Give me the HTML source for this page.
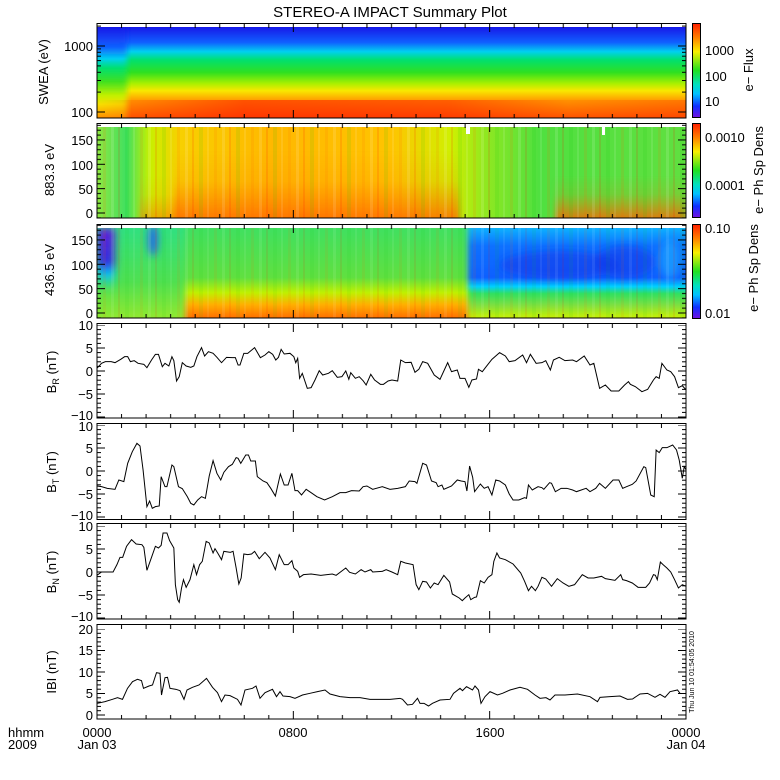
<!DOCTYPE html>
<html><head><meta charset="utf-8"><style>
html,body{margin:0;padding:0;background:#fff}
svg{display:block}
text{font-family:"Liberation Sans",sans-serif;font-size:13px;fill:#000}
</style></head><body>
<svg width="780" height="780" viewBox="0 0 780 780" xmlns="http://www.w3.org/2000/svg">
<defs>
<linearGradient id="cb" x1="0" y1="0" x2="0" y2="1">
<stop offset="0" stop-color="#ff2000"/><stop offset="0.15" stop-color="#ff8000"/><stop offset="0.3" stop-color="#f8f000"/><stop offset="0.5" stop-color="#20e020"/><stop offset="0.65" stop-color="#00e0c0"/><stop offset="0.75" stop-color="#00c0ff"/><stop offset="0.88" stop-color="#1030ff"/><stop offset="1" stop-color="#7010e0"/>
</linearGradient>
<linearGradient id="g1" x1="0" y1="0" x2="0" y2="1">
<stop offset="0" stop-color="#1818e8"/><stop offset="0.17" stop-color="#1060ff"/><stop offset="0.27" stop-color="#00d0f0"/><stop offset="0.36" stop-color="#00e070"/><stop offset="0.5" stop-color="#30e020"/><stop offset="0.62" stop-color="#a8f000"/><stop offset="0.7" stop-color="#f8e800"/><stop offset="0.8" stop-color="#ffa000"/><stop offset="1" stop-color="#ff5800"/>
</linearGradient>
<linearGradient id="g1l" x1="0" y1="0" x2="0" y2="1">
<stop offset="0" stop-color="#1818e8"/><stop offset="0.22" stop-color="#1060ff"/><stop offset="0.35" stop-color="#00d0f0"/><stop offset="0.45" stop-color="#00e070"/><stop offset="0.6" stop-color="#40e020"/><stop offset="0.75" stop-color="#c0f000"/><stop offset="0.85" stop-color="#f8e000"/><stop offset="1" stop-color="#ff9000"/>
</linearGradient>
<linearGradient id="g1red" x1="0" y1="0" x2="1" y2="0">
<stop offset="0" stop-color="#ff2000" stop-opacity="0"/><stop offset="0.25" stop-color="#ff2000" stop-opacity="0.6"/><stop offset="0.6" stop-color="#ff2000" stop-opacity="0.5"/><stop offset="0.8" stop-color="#ff2000" stop-opacity="0.1"/><stop offset="1" stop-color="#ff2000" stop-opacity="0.3"/>
</linearGradient>
<linearGradient id="g2" x1="0" y1="0" x2="1" y2="0">
<stop offset="0" stop-color="#90e840"/><stop offset="0.05" stop-color="#40e060"/><stop offset="0.09" stop-color="#c8f000"/><stop offset="0.14" stop-color="#f8d000"/><stop offset="0.3" stop-color="#ffb800"/><stop offset="0.5" stop-color="#ffc400"/><stop offset="0.6" stop-color="#d0f000"/><stop offset="0.66" stop-color="#90e820"/><stop offset="0.75" stop-color="#50e040"/><stop offset="1" stop-color="#60e040"/>
</linearGradient>
<linearGradient id="g2v" x1="0" y1="0" x2="0" y2="1">
<stop offset="0" stop-color="#ff7000" stop-opacity="0"/><stop offset="0.45" stop-color="#ff7000" stop-opacity="0.15"/><stop offset="1" stop-color="#ff6000" stop-opacity="0.75"/>
</linearGradient>
<linearGradient id="g3m" x1="0" y1="0" x2="0" y2="1">
<stop offset="0" stop-color="#40e060"/><stop offset="0.55" stop-color="#60e040"/><stop offset="0.72" stop-color="#c0f000"/><stop offset="0.85" stop-color="#ffb000"/><stop offset="1" stop-color="#ff7000"/>
</linearGradient>
<linearGradient id="g3l" x1="0" y1="0" x2="0" y2="1">
<stop offset="0" stop-color="#30e080"/><stop offset="0.6" stop-color="#50e050"/><stop offset="1" stop-color="#90e830"/>
</linearGradient>
<linearGradient id="g3r" x1="0" y1="0" x2="0" y2="1">
<stop offset="0" stop-color="#10b0ff"/><stop offset="0.2" stop-color="#1070ff"/><stop offset="0.55" stop-color="#1060ff"/><stop offset="0.65" stop-color="#00d0ff"/><stop offset="0.73" stop-color="#30e060"/><stop offset="0.86" stop-color="#80e040"/><stop offset="1" stop-color="#c8f000"/>
</linearGradient>
<linearGradient id="g3p" x1="0" y1="0" x2="0" y2="1">
<stop offset="0" stop-color="#6020d8"/><stop offset="0.55" stop-color="#3030e0"/><stop offset="0.7" stop-color="#00c0ff"/><stop offset="1" stop-color="#30e080" stop-opacity="0"/>
</linearGradient>
<filter id="bl"><feGaussianBlur stdDeviation="4"/></filter>
<filter id="bl2"><feGaussianBlur stdDeviation="3 0"/></filter>
<pattern id="stripes" patternUnits="userSpaceOnUse" width="37" height="10">
<rect x="0" width="3" height="10" fill="#fff" opacity="0.12"/><rect x="7" width="2" height="10" fill="#f00" opacity="0.12"/><rect x="14" width="4" height="10" fill="#0c0" opacity="0.1"/><rect x="22" width="2" height="10" fill="#fff" opacity="0.1"/><rect x="29" width="3" height="10" fill="#f60" opacity="0.12"/>
</pattern>
<pattern id="xtT" patternUnits="userSpaceOnUse" width="196.33" height="8">
<rect x="-0.5" y="0" width="1" height="8" fill="#000"/>
<rect x="24.04" y="0" width="1" height="4" fill="#000"/><rect x="48.58" y="0" width="1" height="4" fill="#000"/><rect x="73.12" y="0" width="1" height="4" fill="#000"/><rect x="97.66" y="0" width="1" height="4" fill="#000"/><rect x="122.2" y="0" width="1" height="4" fill="#000"/><rect x="146.75" y="0" width="1" height="4" fill="#000"/><rect x="171.29" y="0" width="1" height="4" fill="#000"/>
<rect x="195.83" y="0" width="1" height="8" fill="#000"/>
</pattern>
<pattern id="xtB" patternUnits="userSpaceOnUse" width="196.33" height="8">
<rect x="-0.5" y="0" width="1" height="8" fill="#000"/>
<rect x="24.04" y="4" width="1" height="4" fill="#000"/><rect x="48.58" y="4" width="1" height="4" fill="#000"/><rect x="73.12" y="4" width="1" height="4" fill="#000"/><rect x="97.66" y="4" width="1" height="4" fill="#000"/><rect x="122.2" y="4" width="1" height="4" fill="#000"/><rect x="146.75" y="4" width="1" height="4" fill="#000"/><rect x="171.29" y="4" width="1" height="4" fill="#000"/>
<rect x="195.83" y="0" width="1" height="8" fill="#000"/>
</pattern>
<pattern id="ybL" patternUnits="userSpaceOnUse" width="8" height="23">
<rect x="0" y="-0.5" width="8" height="1" fill="#000"/><rect x="0" y="4.1" width="4" height="1" fill="#000"/><rect x="0" y="8.7" width="4" height="1" fill="#000"/><rect x="0" y="13.3" width="4" height="1" fill="#000"/><rect x="0" y="17.9" width="4" height="1" fill="#000"/><rect x="0" y="22.5" width="8" height="1" fill="#000"/>
</pattern>
<pattern id="ybR" patternUnits="userSpaceOnUse" width="8" height="23">
<rect x="0" y="-0.5" width="8" height="1" fill="#000"/><rect x="4" y="4.1" width="4" height="1" fill="#000"/><rect x="4" y="8.7" width="4" height="1" fill="#000"/><rect x="4" y="13.3" width="4" height="1" fill="#000"/><rect x="4" y="17.9" width="4" height="1" fill="#000"/><rect x="0" y="22.5" width="8" height="1" fill="#000"/>
</pattern>
<pattern id="ymL" patternUnits="userSpaceOnUse" width="8" height="21.5">
<rect x="0" y="-0.5" width="8" height="1" fill="#000"/><rect x="0" y="3.8" width="4" height="1" fill="#000"/><rect x="0" y="8.1" width="4" height="1" fill="#000"/><rect x="0" y="12.4" width="4" height="1" fill="#000"/><rect x="0" y="16.7" width="4" height="1" fill="#000"/><rect x="0" y="21" width="8" height="1" fill="#000"/>
</pattern>
<pattern id="ymR" patternUnits="userSpaceOnUse" width="8" height="21.5">
<rect x="0" y="-0.5" width="8" height="1" fill="#000"/><rect x="4" y="3.8" width="4" height="1" fill="#000"/><rect x="4" y="8.1" width="4" height="1" fill="#000"/><rect x="4" y="12.4" width="4" height="1" fill="#000"/><rect x="4" y="16.7" width="4" height="1" fill="#000"/><rect x="0" y="21" width="8" height="1" fill="#000"/>
</pattern>
<pattern id="ypL" patternUnits="userSpaceOnUse" width="8" height="24.35">
<rect x="0" y="-0.5" width="8" height="1" fill="#000"/><rect x="0" y="4.37" width="4" height="1" fill="#000"/><rect x="0" y="9.24" width="4" height="1" fill="#000"/><rect x="0" y="14.11" width="4" height="1" fill="#000"/><rect x="0" y="18.98" width="4" height="1" fill="#000"/><rect x="0" y="23.85" width="8" height="1" fill="#000"/>
</pattern>
<pattern id="ypR" patternUnits="userSpaceOnUse" width="8" height="24.35">
<rect x="0" y="-0.5" width="8" height="1" fill="#000"/><rect x="4" y="4.37" width="4" height="1" fill="#000"/><rect x="4" y="9.24" width="4" height="1" fill="#000"/><rect x="4" y="14.11" width="4" height="1" fill="#000"/><rect x="4" y="18.98" width="4" height="1" fill="#000"/><rect x="0" y="23.85" width="8" height="1" fill="#000"/>
</pattern>
<clipPath id="c2"><rect x="97" y="127" width="589" height="91"/></clipPath>
<clipPath id="c3"><rect x="97" y="228" width="589" height="90"/></clipPath>
<clipPath id="c1"><rect x="97" y="27" width="589" height="91"/></clipPath>
</defs>

<text x="390" y="17" text-anchor="middle" style="font-size:15px">STEREO-A IMPACT Summary Plot</text>

<!-- Panel 1 SWEA -->
<rect x="97" y="27" width="589" height="91" fill="url(#g1)"/>
<g clip-path="url(#c1)">
<rect x="90" y="27" width="37" height="91" fill="url(#g1l)" filter="url(#bl2)"/>
</g>
<rect x="97" y="100" width="589" height="18" fill="url(#g1red)"/>
<rect x="97" y="23.5" width="589" height="94.5" fill="none" stroke="#000"/>
<g fill="#000">
<rect x="97" y="111.5" width="8" height="1"/><rect x="97" y="91.6" width="4" height="1"/><rect x="97" y="80" width="4" height="1"/><rect x="97" y="71.8" width="4" height="1"/><rect x="97" y="65.4" width="4" height="1"/><rect x="97" y="60.1" width="4" height="1"/><rect x="97" y="55.7" width="4" height="1"/><rect x="97" y="51.8" width="4" height="1"/><rect x="97" y="48.4" width="4" height="1"/><rect x="97" y="45.5" width="8" height="1"/><rect x="97" y="25.6" width="4" height="1"/>
<rect x="678" y="111.5" width="8" height="1"/><rect x="682" y="91.6" width="4" height="1"/><rect x="682" y="80" width="4" height="1"/><rect x="682" y="71.8" width="4" height="1"/><rect x="682" y="65.4" width="4" height="1"/><rect x="682" y="60.1" width="4" height="1"/><rect x="682" y="55.7" width="4" height="1"/><rect x="682" y="51.8" width="4" height="1"/><rect x="682" y="48.4" width="4" height="1"/><rect x="678" y="45.5" width="8" height="1"/><rect x="682" y="25.6" width="4" height="1"/>
</g>
<g transform="translate(97,24)"><rect x="0" y="0" width="589" height="8" fill="url(#xtT)"/></g>
<g transform="translate(97,110)"><rect x="0" y="0" width="589" height="8" fill="url(#xtB)"/></g>
<text x="93" y="51" text-anchor="end">1000</text>
<text x="93" y="117" text-anchor="end">100</text>
<text transform="translate(48,72) rotate(-90)" text-anchor="middle">SWEA (eV)</text>

<!-- Panel 2 -->
<rect x="97" y="127" width="589" height="91" fill="url(#g2)"/>
<g clip-path="url(#c2)">
<rect x="175" y="150" width="285" height="68" fill="url(#g2v)" filter="url(#bl2)"/>
<rect x="140" y="175" width="40" height="43" fill="url(#g2v)" opacity="0.6" filter="url(#bl2)"/>
<rect x="555" y="175" width="131" height="43" fill="url(#g2v)" filter="url(#bl2)"/>
</g>
<rect x="97" y="127" width="589" height="91" fill="url(#stripes)"/>
<rect x="466" y="127" width="4" height="7" fill="#fff"/>
<rect x="602" y="127" width="3" height="8" fill="#fff"/>
<rect x="97" y="123.5" width="589" height="94.5" fill="none" stroke="#000"/>
<g transform="translate(97,213)"><rect x="0" y="-90" width="8" height="95" fill="url(#ypL)"/></g>
<g transform="translate(678,213)"><rect x="0" y="-90" width="8" height="95" fill="url(#ypR)"/></g>
<g transform="translate(97,124)"><rect x="0" y="0" width="589" height="8" fill="url(#xtT)"/></g>
<g transform="translate(97,210)"><rect x="0" y="0" width="589" height="8" fill="url(#xtB)"/></g>
<text x="93" y="145" text-anchor="end">150</text>
<text x="93" y="170" text-anchor="end">100</text>
<text x="93" y="194" text-anchor="end">50</text>
<text x="93" y="218" text-anchor="end">0</text>
<text transform="translate(54,170) rotate(-90)" text-anchor="middle">883.3 eV</text>

<!-- Panel 3 -->
<rect x="97" y="228" width="589" height="90" fill="url(#g3m)"/>
<g clip-path="url(#c3)">
<rect x="90" y="228" width="95" height="90" fill="url(#g3l)" filter="url(#bl2)"/>
<rect x="468" y="228" width="230" height="90" fill="url(#g3r)" filter="url(#bl2)"/>
<g filter="url(#bl)">
<rect x="97" y="228" width="18" height="65" fill="url(#g3p)"/>
<ellipse cx="153" cy="240" rx="5" ry="16" fill="#2050ff" opacity="0.8"/>
<ellipse cx="560" cy="265" rx="60" ry="14" fill="#1030e8" opacity="0.5"/>
<ellipse cx="625" cy="262" rx="30" ry="16" fill="#1030e8" opacity="0.5"/>
<ellipse cx="670" cy="260" rx="10" ry="20" fill="#20c0ff" opacity="0.5"/>
</g>
</g>
<rect x="97" y="228" width="589" height="90" fill="url(#stripes)" opacity="0.7"/>
<rect x="97" y="224.5" width="589" height="93.5" fill="none" stroke="#000"/>
<g transform="translate(97,313)"><rect x="0" y="-88" width="8" height="93" fill="url(#ypL)"/></g>
<g transform="translate(678,313)"><rect x="0" y="-88" width="8" height="93" fill="url(#ypR)"/></g>
<g transform="translate(97,225)"><rect x="0" y="0" width="589" height="8" fill="url(#xtT)"/></g>
<g transform="translate(97,310)"><rect x="0" y="0" width="589" height="8" fill="url(#xtB)"/></g>
<text x="93" y="245" text-anchor="end">150</text>
<text x="93" y="270" text-anchor="end">100</text>
<text x="93" y="294" text-anchor="end">50</text>
<text x="93" y="318" text-anchor="end">0</text>
<text transform="translate(54,270) rotate(-90)" text-anchor="middle">436.5 eV</text>

<!-- Colorbars -->
<rect x="692.5" y="23.5" width="8" height="94" fill="url(#cb)" stroke="#000"/>
<rect x="692.5" y="123.5" width="8" height="94" fill="url(#cb)" stroke="#000"/>
<rect x="692.5" y="224.5" width="8" height="94" fill="url(#cb)" stroke="#000"/>
<text x="705" y="55">1000</text><text x="705" y="81">100</text><text x="705" y="106">10</text>
<text x="705" y="142">0.0010</text><text x="705" y="190">0.0001</text>
<text x="705" y="233">0.10</text><text x="705" y="318">0.01</text>
<text transform="translate(753,70) rotate(-90)" text-anchor="middle">e− Flux</text>
<text transform="translate(763,170) rotate(-90)" text-anchor="middle">e− Ph Sp Dens</text>
<text transform="translate(758,268) rotate(-90)" text-anchor="middle">e− Ph Sp Dens</text>

<!-- Line panels frames -->
<g fill="none" stroke="#000">
<rect x="97" y="323.5" width="589" height="94.5"/>
<rect x="97" y="423.5" width="589" height="96"/>
<rect x="97" y="523.5" width="589" height="95.5"/>
<rect x="97" y="624.5" width="589" height="94.5"/>
</g>
<g transform="translate(97,371)"><rect x="0" y="-46" width="8" height="93" fill="url(#ybL)"/></g>
<g transform="translate(678,371)"><rect x="0" y="-46" width="8" height="93" fill="url(#ybR)"/></g>
<g transform="translate(97,471)"><rect x="0" y="-46" width="8" height="93" fill="url(#ybL)"/></g>
<g transform="translate(678,471)"><rect x="0" y="-46" width="8" height="93" fill="url(#ybR)"/></g>
<g transform="translate(97,572)"><rect x="0" y="-46" width="8" height="93" fill="url(#ybL)"/></g>
<g transform="translate(678,572)"><rect x="0" y="-46" width="8" height="93" fill="url(#ybR)"/></g>
<g transform="translate(97,715)"><rect x="0" y="-86" width="8" height="87" fill="url(#ymL)"/></g>
<g transform="translate(678,715)"><rect x="0" y="-86" width="8" height="87" fill="url(#ymR)"/></g>
<g transform="translate(97,324)"><rect width="589" height="8" fill="url(#xtT)"/></g>
<g transform="translate(97,410)"><rect width="589" height="8" fill="url(#xtB)"/></g>
<g transform="translate(97,424)"><rect width="589" height="8" fill="url(#xtT)"/></g>
<g transform="translate(97,511)"><rect width="589" height="8" fill="url(#xtB)"/></g>
<g transform="translate(97,524)"><rect width="589" height="8" fill="url(#xtT)"/></g>
<g transform="translate(97,611)"><rect width="589" height="8" fill="url(#xtB)"/></g>
<g transform="translate(97,625)"><rect width="589" height="8" fill="url(#xtT)"/></g>
<g transform="translate(97,711)"><rect width="589" height="8" fill="url(#xtB)"/></g>

<g text-anchor="end">
<text x="93" y="330">10</text><text x="93" y="353">5</text><text x="93" y="376">0</text><text x="93" y="399">−5</text><text x="93" y="420">−10</text>
<text x="93" y="431">10</text><text x="93" y="453">5</text><text x="93" y="476">0</text><text x="93" y="499">−5</text><text x="93" y="520">−10</text>
<text x="93" y="531">10</text><text x="93" y="554">5</text><text x="93" y="577">0</text><text x="93" y="600">−5</text><text x="93" y="621">−10</text>
<text x="93" y="634">20</text><text x="93" y="655">15</text><text x="93" y="677">10</text><text x="93" y="698">5</text><text x="93" y="720">0</text>
</g>
<text transform="translate(56,372) rotate(-90)" text-anchor="middle">B<tspan dy="3" style="font-size:9px">R</tspan><tspan dy="-3"> (nT)</tspan></text>
<text transform="translate(56,472) rotate(-90)" text-anchor="middle">B<tspan dy="3" style="font-size:9px">T</tspan><tspan dy="-3"> (nT)</tspan></text>
<text transform="translate(56,572) rotate(-90)" text-anchor="middle">B<tspan dy="3" style="font-size:9px">N</tspan><tspan dy="-3"> (nT)</tspan></text>
<text transform="translate(56,672) rotate(-90)" text-anchor="middle">IBI (nT)</text>
<text transform="translate(694,672) rotate(-90)" text-anchor="middle" style="font-size:7px">Thu Jun 10 01:54:05 2010</text>

<g fill="none" stroke="#000" stroke-width="1">
<polyline transform="translate(90,320) scale(0.3846,0.3333)" vector-effect="non-scaling-stroke" points="18,145 30,130 40,125 55,125 65,128 80,118 90,110 98,110 105,125 115,122 125,130 140,133 148,143 160,120 170,103 178,103 188,140 195,130 205,138 213,110 218,122 225,183 232,170 240,128 250,138 262,142 270,138 278,110 290,83 298,108 308,95 320,100 330,112 342,128 355,112 370,113 378,113 385,135 390,135 400,100 410,100 428,83 443,113 455,105 465,95 475,103 483,120 490,112 497,88 505,102 520,100 530,110 535,128 540,115 545,175 552,160 565,205 575,203 585,180 596,152 605,165 620,160 630,152 643,172 655,170 665,153 673,178 678,158 690,175 700,170 710,182 718,195 730,163 740,180 755,193 763,193 775,183 785,180 800,183 808,120 820,128 835,127 845,157 855,148 865,125 878,130 895,165 910,178 930,128 940,155 955,150 962,175 975,175 985,202 993,180 1005,177 1010,148 1020,155 1030,140 1045,118 1065,98 1080,108 1090,125 1105,122 1125,105 1135,128 1145,103 1160,130 1175,128 1185,122 1197,150 1205,120 1220,112 1235,122 1255,120 1265,125 1285,108 1300,135 1310,130 1325,205 1340,195 1355,213 1375,213 1390,195 1400,185 1405,193 1418,200 1435,215 1450,208 1465,180 1472,170 1480,175 1487,130 1500,150 1510,155 1520,170 1530,203 1540,197 1550,210"/>
<polyline transform="translate(90,420) scale(0.3846,0.3333)" vector-effect="non-scaling-stroke" points="18,198 30,200 45,205 65,208 75,180 88,185 98,130 110,95 122,70 130,78 138,150 148,260 155,243 162,265 170,260 180,258 185,170 195,200 200,200 213,135 218,140 230,200 240,206 253,230 262,250 270,255 280,240 290,230 300,235 310,168 320,122 330,160 340,180 348,157 360,140 370,133 380,113 385,115 392,130 405,105 412,105 418,123 430,123 435,170 450,183 460,188 470,205 482,228 495,162 505,195 515,195 525,160 533,212 540,212 550,225 562,208 575,218 590,230 610,240 630,230 650,218 665,218 680,212 700,213 710,200 720,198 735,208 760,200 780,208 800,205 820,200 830,183 845,185 850,190 865,130 875,135 888,183 900,188 905,200 915,195 920,208 940,198 955,180 965,183 975,185 980,213 987,138 995,172 1000,215 1015,192 1025,205 1035,200 1045,225 1055,180 1065,183 1080,195 1090,222 1100,240 1115,240 1130,233 1135,235 1140,195 1150,210 1165,200 1175,203 1180,208 1195,188 1200,190 1210,215 1225,205 1240,205 1255,210 1265,215 1290,205 1300,215 1315,205 1325,190 1340,205 1360,180 1375,180 1385,205 1395,200 1410,193 1420,183 1440,140 1445,143 1458,225 1467,230 1472,90 1480,98 1488,83 1500,83 1515,75 1525,90 1532,120 1540,175 1545,140 1550,150"/>
<polyline transform="translate(90,518) scale(0.3846,0.3333)" vector-effect="non-scaling-stroke" points="18,172 30,162 60,162 70,140 78,118 85,118 95,85 108,65 120,78 135,80 140,88 148,157 160,118 170,85 178,90 185,82 190,45 200,45 207,68 218,90 222,200 228,245 232,253 238,210 243,185 250,208 260,185 270,140 277,170 285,140 292,130 302,70 310,75 320,105 325,92 332,105 342,125 348,100 365,103 372,100 380,150 387,198 393,180 400,108 410,110 420,108 428,100 440,122 455,103 468,120 482,155 492,110 505,140 515,140 525,128 530,150 540,160 545,178 555,170 575,168 600,172 630,168 640,172 665,150 675,163 690,168 705,155 715,162 730,155 735,162 760,160 770,155 785,162 800,170 808,130 820,135 840,140 848,200 855,215 865,190 875,192 885,210 895,195 905,200 920,172 935,192 942,228 960,240 968,248 975,240 985,230 990,245 1000,238 1005,237 1015,188 1025,195 1035,178 1045,170 1050,130 1058,105 1065,120 1080,125 1100,138 1120,165 1130,190 1140,218 1148,205 1158,218 1165,205 1175,178 1185,183 1200,205 1215,182 1230,195 1245,205 1260,200 1280,170 1295,180 1310,180 1330,175 1340,182 1365,187 1380,170 1385,185 1395,188 1410,195 1425,208 1445,208 1455,195 1465,170 1470,172 1475,185 1483,132 1490,140 1500,150 1510,162 1520,185 1530,210 1540,200 1550,205"/>
<polyline transform="translate(0,600) scale(0.5,0.3333)" vector-effect="non-scaling-stroke" points="195,310 210,305 225,298 235,293 245,298 255,265 265,245 275,238 283,242 287,265 298,258 305,255 313,218 320,220 323,285 330,233 335,232 340,265 352,268 360,272 368,298 374,270 385,262 398,255 413,235 425,262 435,278 443,305 450,285 460,287 475,298 482,315 490,270 505,265 512,258 520,295 530,278 545,268 553,290 560,275 566,288 580,290 590,295 605,285 620,280 635,275 650,270 660,282 680,290 700,293 720,293 740,298 760,298 780,298 800,295 805,298 815,315 825,313 835,295 840,310 848,310 857,318 865,310 880,300 900,298 907,280 920,265 925,272 933,260 945,270 950,258 957,270 962,310 970,290 980,275 995,285 1005,280 1020,270 1040,262 1055,268 1070,285 1080,295 1092,293 1100,300 1110,285 1130,285 1155,282 1180,290 1195,305 1200,292 1220,290 1240,288 1255,298 1265,297 1280,282 1295,280 1310,292 1320,283 1330,292 1340,275 1355,270 1360,280"/>
</g>

<text x="8" y="737">hhmm</text><text x="8" y="749">2009</text>
<text x="97" y="737" text-anchor="middle">0000</text><text x="97" y="749" text-anchor="middle">Jan 03</text>
<text x="293" y="737" text-anchor="middle">0800</text>
<text x="490" y="737" text-anchor="middle">1600</text>
<text x="686" y="737" text-anchor="middle">0000</text><text x="686" y="749" text-anchor="middle">Jan 04</text>
</svg>
</body></html>
